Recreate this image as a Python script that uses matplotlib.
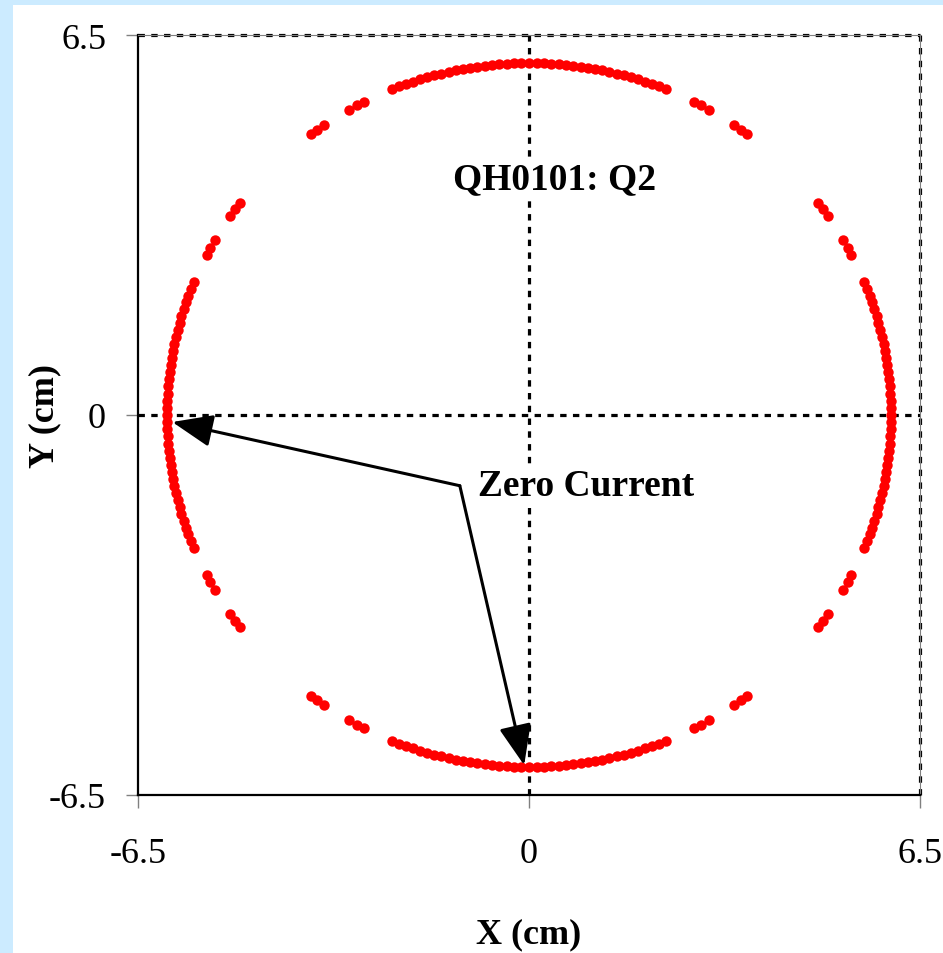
import matplotlib
matplotlib.use('Agg')
import matplotlib.pyplot as plt
import numpy as np
from matplotlib.patches import Rectangle

plt.rcParams['font.family'] = ['Liberation Serif', 'DejaVu Serif']

# zero-current points in polar form (cm, degrees)
radius_cm = 6.02
arc_offsets_deg = [-22.2, -21.0, -19.8, -18.7, -17.5, -16.3, -15.2, -14.0, -12.8,
                   -11.7, -10.5, -9.3, -8.2, -7.0, -5.8, -4.7, -3.5, -2.3, -1.2,
                   0.0, 1.2, 2.3, 3.5, 4.7, 5.8, 7.0, 8.2, 9.3, 10.5, 11.7, 12.8,
                   14.0, 15.2, 16.3, 17.5, 18.7, 19.8, 21.0, 22.2]
arc_centres_deg = [0, 90, 180, 270]
cluster_deg = [27.1, 28.4, 29.8, 34.4, 35.8, 37.1,
               52.9, 54.2, 55.6, 60.2, 61.6, 62.9]
quadrants_deg = [0, 90, 180, 270]

tick_vals = [-6.5, 0, 6.5]
tick_labels = ['-6.5', '0', '6.5']
title_txt = 'QH0101: Q2'
note_txt = 'Zero Current'

angles = [c + o for c in arc_centres_deg for o in arc_offsets_deg] + \
         [q + a for q in quadrants_deg for a in cluster_deg]
theta = np.radians(angles)
x = radius_cm * np.cos(theta)
y = radius_cm * np.sin(theta)

fig = plt.figure(figsize=(9.43, 9.54), dpi=100)
fig.patch.set_facecolor('#CCEBFF')
fig.patches.append(Rectangle((13/943, 0), 1, 1 - 6/954, transform=fig.transFigure,
                             facecolor='white', edgecolor='none', zorder=-5))

ax = fig.add_axes([138/943, 1 - 796/954, 782/943, 760/954])
ax.set_xlim(-6.5, 6.5)
ax.set_ylim(-6.5, 6.5)

for side in ['left', 'bottom']:
    ax.spines[side].set_color('black')
    ax.spines[side].set_linewidth(1.6)
for side in ['top', 'right']:
    ax.spines[side].set_color('#808080')
    ax.spines[side].set_linewidth(0.8)

for v in [0, 6.5]:
    ax.axvline(v, color='black', lw=2.3, ls=(0, (2.0, 2.0)), clip_on=False, zorder=1.5)
    ax.axhline(v, color='black', lw=2.3, ls=(0, (2.0, 2.0)), clip_on=False, zorder=1.5)

ax.plot(x, y, 'o', color='red', markersize=7.5, markeredgewidth=0, zorder=3)

ax.set_xticks(tick_vals)
ax.set_xticklabels(tick_labels)
ax.set_yticks(tick_vals)
ax.set_yticklabels(tick_labels)
ax.tick_params(direction='out', length=9, width=1, color='#808080', labelsize=26)
ax.tick_params(axis='x', pad=21)
ax.tick_params(axis='y', pad=14)

ax.set_xlabel('X (cm)', fontsize=26, fontweight='bold', va='center')
ax.xaxis.set_label_coords(0.5, -(935 - 796) / 760)
ax.set_ylabel('Y (cm)', fontsize=26, fontweight='bold', va='center')
ax.yaxis.set_label_coords((45 - 138) / 782, 0.5)

ax.text(0.42, 4.04, title_txt, fontsize=27, fontweight='bold', ha='center', va='center',
        bbox=dict(facecolor='white', edgecolor='none', pad=2), zorder=4)
ax.text(-0.85, -1.21, note_txt, fontsize=27, fontweight='bold', ha='left', va='center',
        bbox=dict(facecolor='white', edgecolor='none', pad=2), zorder=4)

arrow = dict(arrowstyle='-|>,head_length=1.0,head_width=0.4', mutation_scale=25,
             lw=2.2, color='black', shrinkA=0, shrinkB=0)
ax.annotate('', xy=(-5.93, -0.12), xytext=(-1.15, -1.21), arrowprops=arrow, zorder=5)
ax.annotate('', xy=(-0.08, -5.99), xytext=(-1.15, -1.21), arrowprops=arrow, zorder=5)

fig.savefig('out.png', dpi=100, facecolor=fig.get_facecolor())
